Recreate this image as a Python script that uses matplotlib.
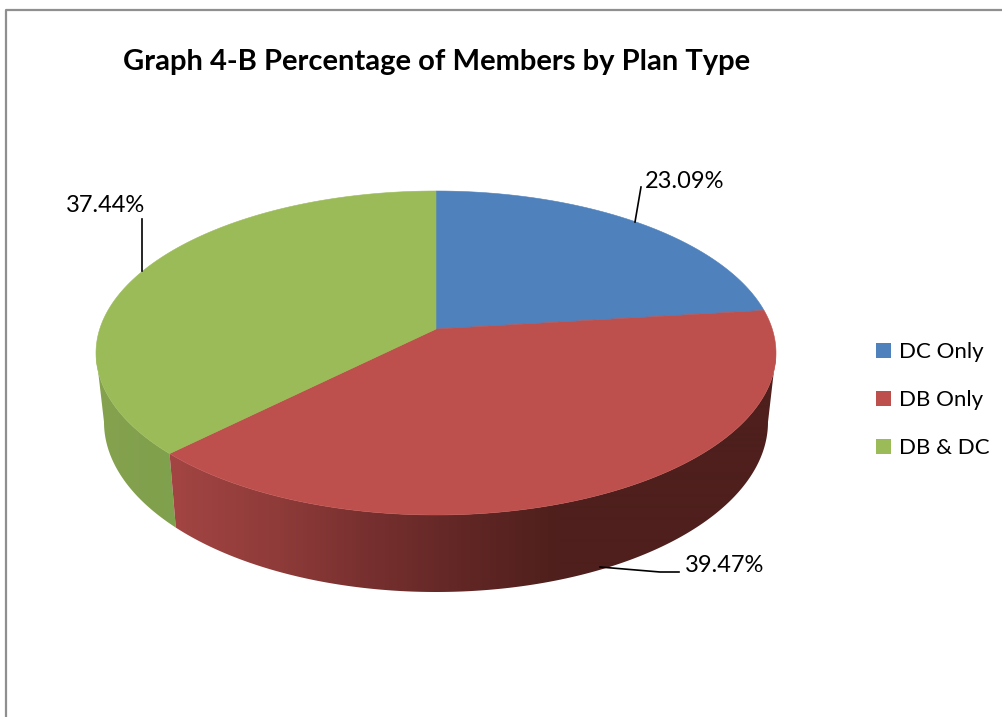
import matplotlib
matplotlib.use("Agg")
import matplotlib.pyplot as plt
import numpy as np
from matplotlib.patches import Patch, Polygon


TITLE = "Graph 4-B Percentage of Members by Plan Type"
CATEGORIES = ["DC Only", "DB Only", "DB & DC"]
SHARES = [23.09, 39.47, 37.44]

COLORS = ["#4F81BD", "#BD504D", "#9BBB59"]
FONT = "Lato"
FRAME_COLOR = "#8F8F8F"

# pie geometry, in image pixels
CENTER_X = 436
TOP_Y, TOP_RX, TOP_RY = 353, 340, 162
BOTTOM_Y, BOTTOM_RX, BOTTOM_RY = 422, 332, 170
# the apex sits above the ellipse centre because of the perspective
TILT = 0.148
# flat pie angle where the rim turns away from the viewer
FOLD = np.arccos(-TILT)

# label text position and leader line ends
LABEL_POS = [(645, 181), (685, 565), (66, 205)]
LEADERS = [
    [(641, 187), (635, 222)],
    [(679, 572), (660, 572), (600, 567)],
    [(142, 219), (142, 271)],
]

# side wall shading by pixel x, blue never shows
RED_X = [170, 280, 375, 470, 560, 780]
RED_SHADE = ["#A34543", "#8E3B39", "#752F2E", "#602624", "#4E1F1C", "#4E1F1C"]
GREEN_X = [90, 175]
GREEN_SHADE = ["#86A24F", "#7FA04C"]


def warp(angle):
    # disk translation: maps a flat pie angle (clockwise from top) onto the ellipse
    u = np.sin(angle)
    v = np.cos(angle)
    denom = 1 + TILT * v
    return u * np.sqrt(1 - TILT**2) / denom, (v + TILT) / denom


def top_rim(angle):
    u, v = warp(angle)
    return CENTER_X + TOP_RX * u, TOP_Y - TOP_RY * v


def bottom_rim(angle):
    u, v = warp(angle)
    return CENTER_X + BOTTOM_RX * u, BOTTOM_Y - BOTTOM_RY * v


def draw_side(ax, start, end, xs, shades):
    start = max(start, FOLD)
    end = min(end, 2 * np.pi - FOLD)
    angles = np.linspace(start, end, 240)
    tx, ty = top_rim(angles)
    bx, by = bottom_rim(angles[::-1])
    outline = Polygon(np.c_[np.r_[tx, bx], np.r_[ty, by]], closed=True,
                      facecolor="none", edgecolor="none", transform=ax.transData)
    ax.add_patch(outline)

    rgb = np.array([matplotlib.colors.to_rgb(c) for c in shades])
    grid = np.arange(0, 1003)
    gradient = np.stack([np.interp(grid, xs, rgb[:, i]) for i in range(3)], axis=-1)
    image = ax.imshow(gradient[np.newaxis, :, :], extent=(0, 1003, 717, 0),
                      aspect="auto", interpolation="bilinear", zorder=2)
    image.set_clip_path(outline)


def draw_top(ax, start, end, color):
    x, y = top_rim(np.linspace(start, end, 240))
    apex_y = TOP_Y - TOP_RY * TILT
    ax.fill(np.r_[CENTER_X, x], np.r_[apex_y, y], color=color, lw=0.4, zorder=3)


def main():
    fig = plt.figure(figsize=(10.03, 7.17), dpi=100, facecolor="white")
    ax = fig.add_axes([0, 0, 1, 1])
    ax.axis("off")

    ax.plot([5.7, 5.7, 1003], [717, 10, 10], color=FRAME_COLOR, lw=1.6, zorder=1)

    edges = np.r_[0, np.cumsum(SHARES)] / 100 * 2 * np.pi
    draw_side(ax, edges[2], edges[3], GREEN_X, GREEN_SHADE)
    draw_side(ax, edges[1], edges[2], RED_X, RED_SHADE)
    for i in range(3):
        draw_top(ax, edges[i], edges[i + 1], COLORS[i])

    ax.set_xlim(0, 1003)
    ax.set_ylim(717, 0)

    for share, pos, leader in zip(SHARES, LABEL_POS, LEADERS):
        ax.text(pos[0], pos[1], f"{share:.2f}%", family=FONT, fontsize=17,
                color="black", ha="left", va="center", zorder=5)
        xs, ys = zip(*leader)
        ax.plot(xs, ys, color="black", lw=1.2, zorder=4)

    ax.text(123, 62, TITLE, family=FONT, fontsize=21, fontweight="bold",
            color="black", ha="left", va="center")

    handles = [Patch(facecolor=c, edgecolor="none") for c in COLORS]
    ax.legend(handles, CATEGORIES, loc="upper left", bbox_to_anchor=(872, 338),
              bbox_transform=ax.transData, frameon=False, prop={"family": FONT, "size": 16},
              handlelength=0.675, handleheight=0.675, handletextpad=0.32,
              labelspacing=1.26, borderpad=0.2, borderaxespad=0)

    fig.savefig("out.png", dpi=100)
    plt.close(fig)


if __name__ == "__main__":
    main()
